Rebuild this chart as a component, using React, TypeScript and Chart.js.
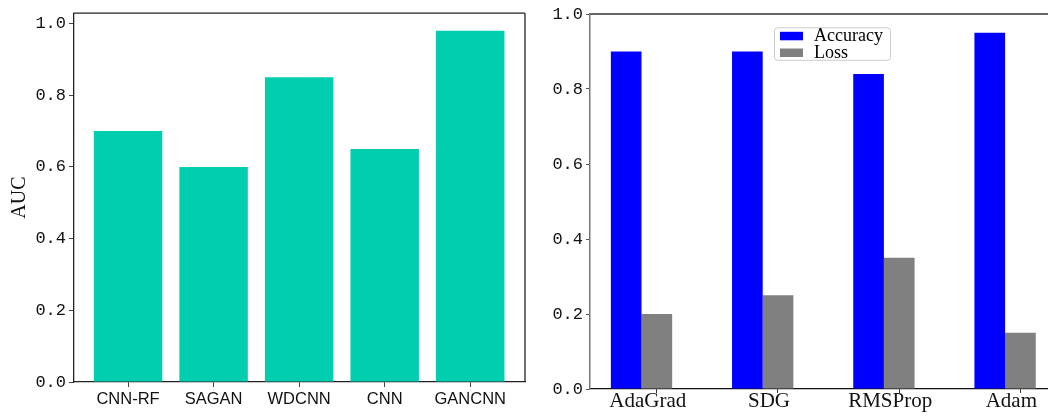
import React, { useEffect, useRef } from 'react';
import { Chart, registerables } from 'chart.js';

Chart.register(...registerables);

// AUC per model
const aucModels = ['CNN-RF', 'SAGAN', 'WDCNN', 'CNN', 'GANCNN'];
const aucValues = [0.70, 0.60, 0.85, 0.65, 0.98];
const aucTicks = [0.0, 0.2, 0.4, 0.6, 0.8, 1.0];

// Accuracy / loss per optimizer
const optimizers = ['AdaGrad', 'SDG', 'RMSProp', 'Adam'];
const accuracyValues = [0.90, 0.90, 0.84, 0.95];
const lossValues = [0.20, 0.25, 0.35, 0.15];
const scoreTicks = [0.0, 0.2, 0.4, 0.6, 0.8, 1.0];

const TEAL = '#00CEAF';
const BLUE = '#0000FF';
const GREY = '#808080';

const tickFont = { family: '"Liberation Mono", "DejaVu Sans Mono", monospace', size: 17 };

// Draws the extra spines (top / right) around the plot area
const framePlugin = {
  id: 'frame',
  afterDraw(chart: any, _args: any, opts: any) {
    const { ctx, chartArea: a } = chart;
    ctx.save();
    if (opts.top) {
      ctx.strokeStyle = opts.top.color;
      ctx.lineWidth = opts.top.width;
      ctx.beginPath();
      ctx.moveTo(a.left, a.top);
      ctx.lineTo(a.right, a.top);
      ctx.stroke();
    }
    if (opts.right) {
      ctx.strokeStyle = opts.right.color;
      ctx.lineWidth = opts.right.width;
      ctx.beginPath();
      ctx.moveTo(a.right, a.top);
      ctx.lineTo(a.right, a.bottom);
      ctx.stroke();
    }
    ctx.restore();
  },
};

// Boxed legend placed inside the plot area
const boxLegendPlugin = {
  id: 'boxLegend',
  afterDraw(chart: any, _args: any, opts: any) {
    const { ctx } = chart;
    const { x, y, width, height, rowHeight, font } = opts;
    ctx.save();
    ctx.fillStyle = 'rgba(255,255,255,0.85)';
    ctx.strokeStyle = '#cccccc';
    ctx.lineWidth = 1;
    ctx.beginPath();
    ctx.roundRect(x + 0.5, y + 0.5, width, height, 3);
    ctx.fill();
    ctx.stroke();
    ctx.font = font;
    ctx.textBaseline = 'middle';
    ctx.textAlign = 'left';
    chart.data.datasets.forEach((ds: any, i: number) => {
      const cy = y + 8.5 + i * rowHeight;
      ctx.fillStyle = ds.backgroundColor;
      ctx.fillRect(x + 6, cy - 4, 23, 8.5);
      ctx.fillStyle = '#000';
      ctx.fillText(ds.label, x + 40, cy + 0.5);
    });
    ctx.restore();
  },
};

function AucChart() {
  const ref = useRef<HTMLCanvasElement>(null);
  useEffect(() => {
    const chart = new Chart(ref.current!, {
      type: 'bar',
      data: {
        datasets: [
          {
            label: 'AUC',
            data: aucModels.map((_, i) => ({ x: i, y: aucValues[i] })),
            backgroundColor: TEAL,
            categoryPercentage: 1,
            barPercentage: 0.8,
          },
        ],
      },
      options: {
        responsive: false,
        animation: false,
        devicePixelRatio: 1,
        layout: { padding: { left: 0, top: 9.3, right: 15, bottom: 0 } },
        plugins: {
          legend: { display: false },
          tooltip: { enabled: false },
          frame: { top: { color: '#222', width: 1.3 }, right: { color: '#222', width: 1.3 } },
        } as any,
        scales: {
          x: {
            type: 'linear',
            min: -0.64,
            max: 4.64,
            offset: false,
            afterBuildTicks: (s: any) => {
              s.ticks = aucModels.map((_, i) => ({ value: i }));
            },
            afterFit: (s: any) => {
              s.height = 35;
            },
            ticks: {
              autoSkip: false,
              maxRotation: 0,
              padding: 4.5,
              color: '#111',
              font: { family: '"Liberation Sans", Arial, sans-serif', size: 16.5, lineHeight: 1 },
              callback: (v: any) => aucModels[Math.round(v)] ?? '',
            },
            grid: { display: true, offset: false, drawOnChartArea: false, drawTicks: true, tickLength: 5, color: '#444' },
            border: { display: true, color: '#222', width: 1.3 },
          },
          y: {
            min: 0,
            max: 1.029,
            afterBuildTicks: (s: any) => {
              s.ticks = aucTicks.map((v) => ({ value: v }));
            },
            afterFit: (s: any) => {
              s.width = 73.3;
            },
            ticks: {
              padding: 3,
              color: '#111',
              font: tickFont,
              callback: (v: any) => Number(v).toFixed(1),
            },
            grid: { display: true, drawOnChartArea: false, drawTicks: true, tickLength: 4.3, color: '#444' },
            border: { display: true, color: '#222', width: 1.3 },
            title: {
              display: true,
              text: 'AUC',
              color: '#111',
              padding: { top: 8, bottom: 0 },
              font: { family: '"Liberation Serif", "Times New Roman", serif', size: 20 },
            },
          },
        },
      } as any,
      plugins: [framePlugin],
    });
    return () => chart.destroy();
  }, []);
  return (
    <canvas
      ref={ref}
      width={540}
      height={417}
      style={{ position: 'absolute', left: 0, top: 0, width: 540, height: 417 }}
    />
  );
}

function OptimizerChart() {
  const ref = useRef<HTMLCanvasElement>(null);
  useEffect(() => {
    // tick marks sit under the centre of the Loss bar
    const TICK_SHIFT = 0.126;
    const chart = new Chart(ref.current!, {
      type: 'bar',
      data: {
        datasets: [
          {
            label: 'Accuracy',
            data: optimizers.map((_, i) => ({ x: i, y: accuracyValues[i] })),
            backgroundColor: BLUE,
            categoryPercentage: 0.506,
            barPercentage: 1,
          },
          {
            label: 'Loss',
            data: optimizers.map((_, i) => ({ x: i, y: lossValues[i] })),
            backgroundColor: GREY,
            categoryPercentage: 0.506,
            barPercentage: 1,
          },
        ],
      },
      options: {
        responsive: false,
        animation: false,
        devicePixelRatio: 1,
        layout: { padding: { left: 0, top: 14, right: 8.4, bottom: 0 } },
        plugins: {
          legend: { display: false },
          tooltip: { enabled: false },
          frame: { top: { color: '#666', width: 2 }, right: { color: '#666', width: 1.5 } },
          boxLegend: {
            x: 234,
            y: 27.3,
            width: 116,
            height: 32.5,
            rowHeight: 16.7,
            font: '18px "Liberation Serif", "Times New Roman", serif',
          },
        } as any,
        scales: {
          x: {
            type: 'linear',
            min: -0.425,
            max: 3.425,
            offset: false,
            afterBuildTicks: (s: any) => {
              s.ticks = optimizers.map((_, i) => ({ value: i + TICK_SHIFT }));
            },
            afterFit: (s: any) => {
              s.height = 28;
            },
            ticks: {
              autoSkip: false,
              maxRotation: 0,
              padding: -2.3,
              labelOffset: -9,
              color: '#111',
              font: { family: '"Liberation Serif", "Times New Roman", serif', size: 21, lineHeight: 1 },
              callback: (_v: any, idx: number) => optimizers[idx] ?? '',
            },
            grid: { display: true, offset: false, drawOnChartArea: false, drawTicks: true, tickLength: 4, color: '#333' },
            border: { display: true, color: '#111', width: 1.2 },
          },
          y: {
            min: 0,
            max: 1.0,
            afterBuildTicks: (s: any) => {
              s.ticks = scoreTicks.map((v) => ({ value: v }));
            },
            afterFit: (s: any) => {
              s.width = 50;
            },
            ticks: {
              padding: 3,
              color: '#111',
              font: tickFont,
              callback: (v: any) => Number(v).toFixed(1),
            },
            grid: { display: true, drawOnChartArea: false, drawTicks: true, tickLength: 4, color: '#555' },
            border: { display: true, color: '#777', width: 1.5 },
          },
        },
      } as any,
      plugins: [framePlugin, boxLegendPlugin],
    });
    return () => chart.destroy();
  }, []);
  return (
    <canvas
      ref={ref}
      width={525}
      height={417}
      style={{ position: 'absolute', left: 540, top: 0, width: 525, height: 417 }}
    />
  );
}

export default function App() {
  return (
    <div
      style={{
        position: 'absolute',
        left: 0,
        top: 0,
        width: 1048,
        height: 417,
        overflow: 'hidden',
        background: '#fff',
      }}
    >
      <AucChart />
      <OptimizerChart />
    </div>
  );
}
